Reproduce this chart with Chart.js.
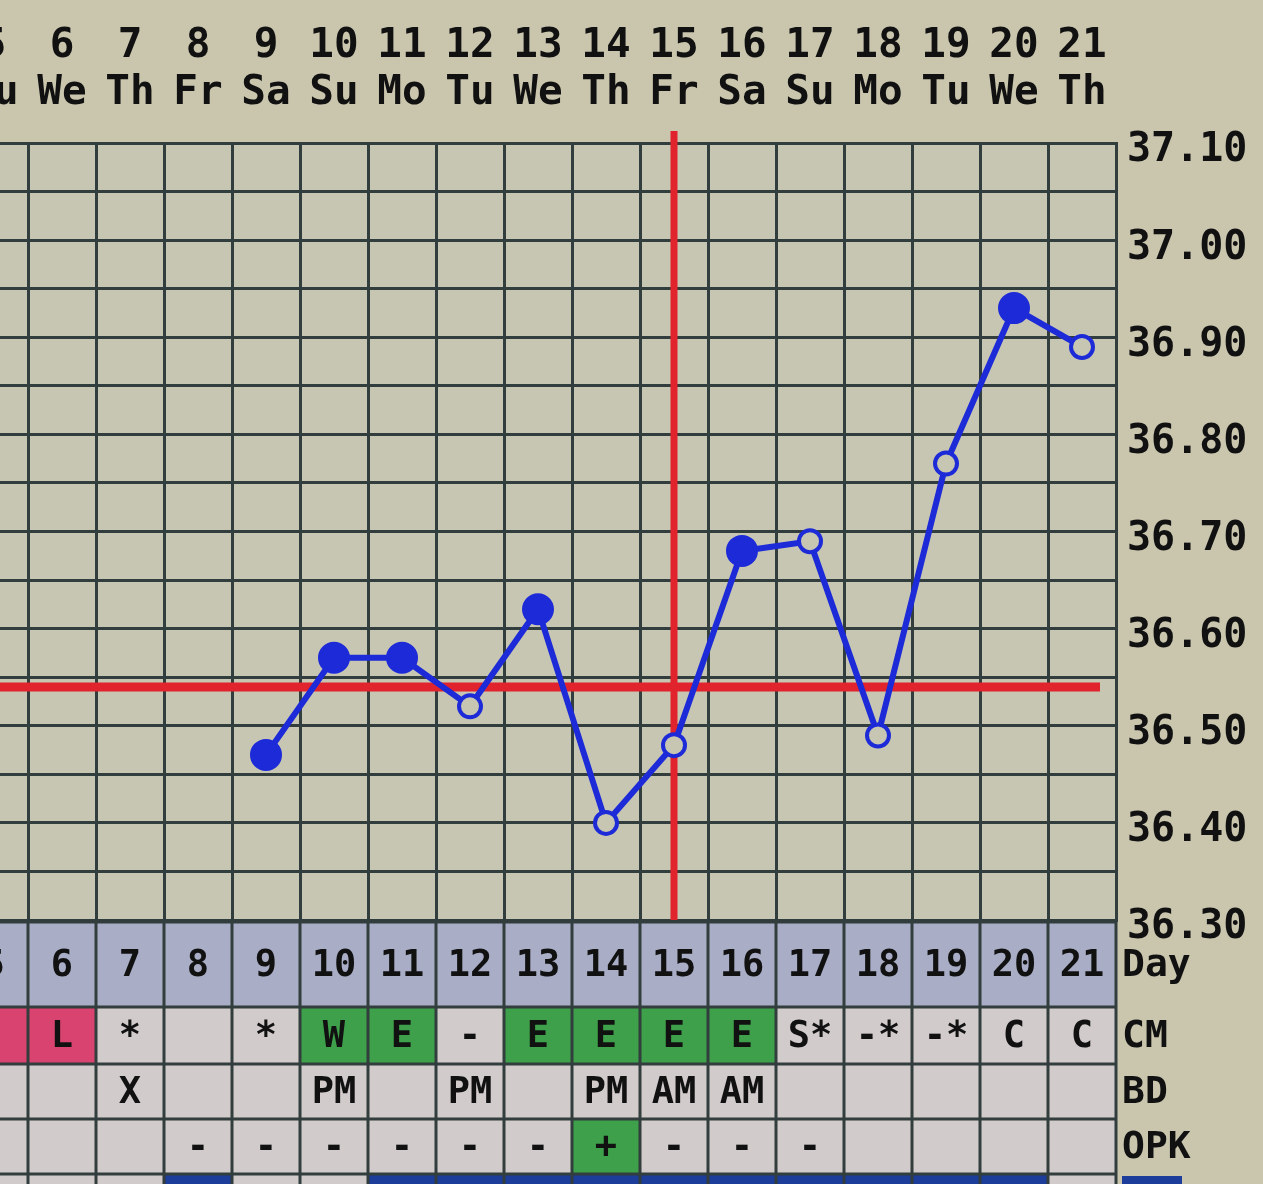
<!DOCTYPE html>
<html>
<head>
<meta charset="utf-8">
<script src="https://cdn.jsdelivr.net/npm/chart.js@4"></script>
<style>
  html, body { margin: 0; padding: 0; overflow: hidden; background: #cac6ae; }
  #wrap { position: absolute; left: -40px; top: 0; width: 1303px; height: 1184px; }
</style>
</head>
<body>
<div id="wrap"><canvas id="bbtChart" width="1303" height="1184"></canvas></div>
<script>
// cycle days shown on the chart (day 5 is cut off at the left edge)
const days = ['5', '6', '7', '8', '9', '10', '11', '12', '13', '14', '15', '16', '17', '18', '19', '20', '21'];
const weekdays = ['Tu', 'We', 'Th', 'Fr', 'Sa', 'Su', 'Mo', 'Tu', 'We', 'Th', 'Fr', 'Sa', 'Su', 'Mo', 'Tu', 'We', 'Th'];

// basal body temperature readings
const temps = [null, null, null, null, 36.47, 36.57, 36.57, 36.52, 36.62, 36.40, 36.48, 36.68, 36.69, 36.49, 36.77, 36.93, 36.89];
// filled dot = normal reading, open dot = flagged reading
const filledDots = [false, false, false, false, true, true, true, false, true, false, false, true, false, false, false, true, false];

const coverline = 36.54;
const ovulationDay = '15';

// table rows under the chart
const cmText = ['', 'L', '*', '', '*', 'W', 'E', '-', 'E', 'E', 'E', 'E', 'S*', '-*', '-*', 'C', 'C'];
const cmMark = ['pink', 'pink', '', '', '', 'green', 'green', '', 'green', 'green', 'green', 'green', '', '', '', '', ''];
const bdText = ['', '', 'X', '', '', 'PM', '', 'PM', '', 'PM', 'AM', 'AM', '', '', '', '', ''];
const opkText = ['', '', '', '-', '-', '-', '-', '-', '-', '+', '-', '-', '-', '', '', '', ''];
const opkMark = ['', '', '', '', '', '', '', '', '', 'green', '', '', '', '', '', '', ''];
const lastRowMark = ['', '', '', 'blue', '', '', 'blue', 'blue', 'blue', 'blue', 'blue', 'blue', 'blue', 'blue', 'blue', 'blue', ''];

const MONO = 'DejaVu Sans Mono';
const gridColor = '#323d3d';
const plotBg = '#c6c6b3';
const pageBg = '#cac6ae';
const lineBlue = '#1d2ad8';
const cellFill = { '': '#d2cbcb', pink: '#d8446f', green: '#3ea04a', blue: '#1c3d9a' };

const backgroundPlugin = {
    id: 'backgrounds',
    beforeDraw(chart) {
        const { ctx, chartArea } = chart;
        ctx.save();
        ctx.fillStyle = pageBg;
        ctx.fillRect(0, 0, chart.width, chart.height);
        ctx.fillStyle = plotBg;
        ctx.fillRect(chartArea.left, chartArea.top, chartArea.right - chartArea.left, chartArea.bottom - chartArea.top);
        ctx.restore();
    },
    beforeDatasetsDraw(chart) {
        // red coverline and ovulation line
        const { ctx, chartArea, scales } = chart;
        const yc = scales.y.getPixelForValue(coverline);
        const xo = scales.x.getPixelForValue(days.indexOf(ovulationDay));
        ctx.save();
        ctx.strokeStyle = '#e1232d';
        ctx.lineWidth = 9;
        ctx.beginPath();
        ctx.moveTo(chartArea.left, yc);
        ctx.lineTo(chartArea.right - 16, yc);
        ctx.stroke();
        ctx.lineWidth = 7;
        ctx.beginPath();
        ctx.moveTo(xo, chartArea.top - 12);
        ctx.lineTo(xo, chartArea.bottom);
        ctx.stroke();
        ctx.restore();
    }
};

const tablePlugin = {
    id: 'chartTable',
    afterDraw(chart) {
        const { ctx, chartArea, scales } = chart;
        const x = scales.x;
        const colW = x.getPixelForValue(1) - x.getPixelForValue(0);
        const rows = [
            { h: 85, text: days, marks: days.map(() => 'day'), label: 'Day' },
            { h: 57, text: cmText, marks: cmMark, label: 'CM' },
            { h: 55, text: bdText, marks: bdText.map(() => ''), label: 'BD' },
            { h: 55, text: opkText, marks: opkMark, label: 'OPK' },
            { h: 55, text: days.map(() => ''), marks: lastRowMark, label: '' }
        ];
        let top = chartArea.bottom + 2;
        ctx.save();
        rows.forEach(row => {
            days.forEach((d, i) => {
                const cx = x.getPixelForValue(i);
                const left = cx - colW / 2;
                ctx.fillStyle = row.marks[i] === 'day' ? '#a9aec6' : cellFill[row.marks[i]];
                ctx.fillRect(left, top, colW, row.h);
                if (row.text[i]) {
                    ctx.fillStyle = '#111';
                    ctx.font = 'bold 37px ' + MONO;
                    ctx.textAlign = 'center';
                    ctx.textBaseline = 'middle';
                    ctx.fillText(row.text[i], cx, top + row.h / 2 + 2);
                }
            });
            // cell borders
            ctx.strokeStyle = gridColor;
            ctx.lineWidth = 3;
            ctx.beginPath();
            ctx.moveTo(chartArea.left, top);
            ctx.lineTo(chartArea.right, top);
            days.forEach((d, i) => {
                const left = x.getPixelForValue(i) - colW / 2;
                ctx.moveTo(left, top);
                ctx.lineTo(left, top + row.h);
            });
            ctx.moveTo(chartArea.right, top);
            ctx.lineTo(chartArea.right, top + row.h);
            ctx.stroke();
            // row label at the right
            if (row.label) {
                ctx.fillStyle = '#111';
                ctx.font = 'bold 38px ' + MONO;
                ctx.textAlign = 'left';
                ctx.textBaseline = 'middle';
                ctx.fillText(row.label, chartArea.right + 6, top + row.h / 2 + 2);
            } else {
                ctx.fillStyle = cellFill.blue;
                ctx.fillRect(chartArea.right + 6, top + 2, 60, row.h);
            }
            top += row.h;
        });
        ctx.restore();
    }
};

const ctx = document.getElementById('bbtChart').getContext('2d');
const bbtChart = new Chart(ctx, {
    type: 'line',
    data: {
        labels: days,
        datasets: [{
            label: 'Temperature',
            data: temps,
            borderColor: lineBlue,
            borderWidth: 6,
            pointRadius: filledDots.map(f => f ? 14 : 11),
            pointBorderWidth: 4,
            pointBorderColor: lineBlue,
            pointBackgroundColor: filledDots.map(f => f ? lineBlue : plotBg),
            tension: 0
        }]
    },
    options: {
        responsive: false,
        animation: false,
        layout: { autoPadding: false, padding: { bottom: 264 } },
        plugins: {
            legend: { display: false },
            tooltip: { enabled: false }
        },
        scales: {
            x: {
                position: 'top',
                offset: true,
                grid: { color: gridColor, lineWidth: 3, offset: true, drawTicks: false },
                border: { display: false },
                ticks: {
                    autoSkip: false,
                    maxRotation: 0,
                    padding: 26,
                    color: '#111',
                    font: { family: MONO, weight: 'bold', size: 41, lineHeight: 1.15 },
                    callback: (v, i) => [days[i], weekdays[i]]
                },
                afterFit: s => { s.height = 143; s.paddingLeft = 0; s.paddingRight = 0; }
            },
            y: {
                position: 'right',
                min: 36.3,
                max: 37.1,
                grid: { color: gridColor, lineWidth: 3, drawTicks: false },
                border: { display: true, color: gridColor, width: 3 },
                ticks: {
                    autoSkip: false,
                    stepSize: 0.05,
                    padding: 11,
                    labelOffset: 8,
                    color: '#111',
                    font: { family: MONO, weight: 'bold', size: 40 },
                    callback: v => (Math.round(v * 100) % 10 === 0 ? v.toFixed(2) : '')
                },
                afterFit: s => { s.width = 147; s.paddingTop = 0; s.paddingBottom = 0; }
            }
        }
    },
    plugins: [backgroundPlugin, tablePlugin]
});
</script>
</body>
</html>
